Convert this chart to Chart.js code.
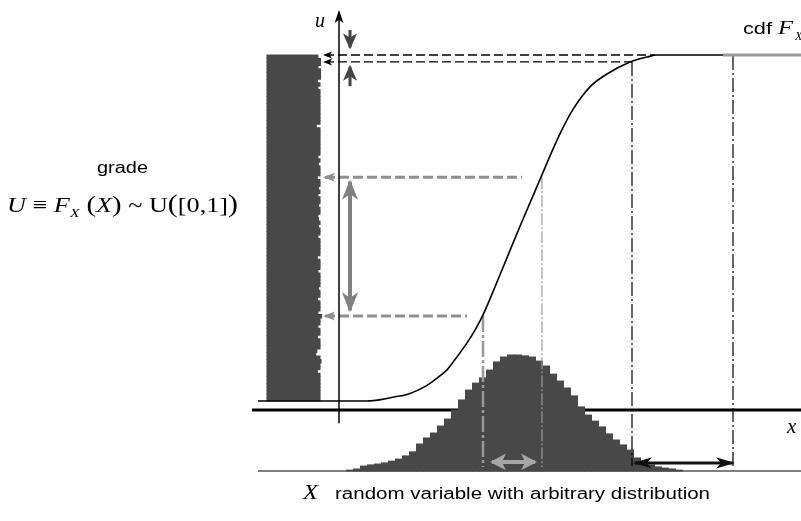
<!DOCTYPE html>
<html>
<head>
<meta charset="utf-8">
<script src="https://cdn.jsdelivr.net/npm/chart.js@4.4.1/dist/chart.umd.min.js"></script>
<style>
  html, body { margin: 0; padding: 0; background: #fff; }
  #wrap { width: 801px; height: 521px; position: relative; }
</style>
</head>
<body>
<div id="wrap"><canvas id="chart"></canvas></div>
<script>
// cdf F_X: x value -> grade u
const cdfX = [-2.57, -1.48, -1.32, -1.22, -1.08, -0.98, -0.88, -0.78, -0.68, -0.62, -0.48, -0.40, -0.32, -0.15, 0.05, 0.26, 0.38, 0.48, 0.58, 0.75, 0.92, 1.15, 1.32, 1.42, 2.08, 2.86];
const cdfU = [0, 0, 0.005, 0.011, 0.019, 0.030, 0.045, 0.066, 0.090, 0.112, 0.168, 0.205, 0.249, 0.365, 0.505, 0.647, 0.728, 0.790, 0.843, 0.908, 0.945, 0.980, 0.994, 1.0, 1.0, 1.0];

// histogram of X (bottom), bins of 0.07 starting at -1.65
const pdfStart = -1.65;
const pdfWidth = 0.07;
const pdfDensity = [0.003, 0.007, 0.017, 0.021, 0.024, 0.028, 0.034, 0.041, 0.052, 0.066,
  0.093, 0.114, 0.131, 0.155, 0.179, 0.210, 0.245, 0.279, 0.303, 0.321,
  0.348, 0.376, 0.393, 0.400, 0.400, 0.397, 0.393, 0.379, 0.362, 0.334,
  0.310, 0.286, 0.259, 0.221, 0.193, 0.172, 0.152, 0.128, 0.107, 0.090,
  0.072, 0.045, 0.031, 0.021, 0.014, 0.010, 0.007, 0.003];

// histogram of the grade U (left), 100 bins over [0,1]
const gradeCounts = [100, 100, 100, 100, 100, 100, 100, 100, 95, 100,
  100, 102, 100, 92, 94, 100, 100, 100, 95, 100,
  100, 96, 100, 100, 103, 96, 100, 100, 100, 95,
  100, 100, 97, 100, 100, 100, 100, 96, 100, 100,
  100, 95, 100, 100, 100, 100, 100, 96, 100, 100,
  97, 100, 97, 96, 100, 100, 97, 100, 100, 96,
  100, 97, 100, 100, 95, 100, 100, 100, 97, 100,
  96, 100, 100, 100, 100, 100, 100, 100, 100, 93,
  100, 100, 100, 100, 100, 100, 100, 100, 100, 100,
  96, 100, 95, 101, 101, 101, 96, 101, 101, 96];

// levels and points used by the construction
const uLow = 0.246, uHigh = 0.647;   // two grades read on the u axis
const xLow = -0.32, xHigh = 0.27;    // their x values
const uTop = 1.0, uTop2 = 0.980;
const xTop = 1.17, xEnd = 2.18;
const uAxisX = -1.76;

const pdfData = pdfDensity.map((d, i) => ({ x: +(pdfStart + pdfWidth * i).toFixed(3), y: d }));
const gradeData = gradeCounts.map((c, i) => ({ y: +(0.005 + 0.01 * i).toFixed(3), x: c }));

function seg(x1, y1, x2, y2, style) {
  return Object.assign({
    type: 'line',
    data: [{ x: x1, y: y1 }, { x: x2, y: y2 }],
    borderColor: '#000',
    borderWidth: 1.3,
    pointRadius: 0,
    fill: false,
    tension: 0,
    order: 3
  }, style);
}

const dashDot = [14, 3, 2, 3];

const datasets = [
  seg(-2.57, 0, 2.86, 0, { yAxisID: 'yd', borderColor: '#555', borderWidth: 1.5, order: 10 }),
  seg(-2.63, -0.026, 2.86, -0.026, { borderWidth: 3, order: 9 }),
  {
    type: 'bar', data: pdfData, xAxisID: 'xp', yAxisID: 'yd',
    backgroundColor: '#484848', borderWidth: 0, grouped: false,
    barPercentage: 1, categoryPercentage: 1, inflateAmount: 0.5, order: 8
  },
  {
    type: 'bar', indexAxis: 'y', data: gradeData, xAxisID: 'xc', yAxisID: 'yg',
    backgroundColor: '#484848', borderWidth: 0, grouped: false,
    barPercentage: 1, categoryPercentage: 1, inflateAmount: 0.5, order: 8
  },
  {
    type: 'line',
    data: cdfX.map((x, i) => ({ x: x, y: cdfU[i] })),
    borderColor: '#000', borderWidth: 1.6, pointRadius: 0, fill: false,
    cubicInterpolationMode: 'monotone', tension: 0.4, order: 2,
    segment: {
      borderColor: c => c.p0.parsed.x >= 2.0 ? '#999' : undefined,
      borderWidth: c => c.p0.parsed.x >= 2.0 ? 3 : undefined
    }
  },
  seg(uAxisX, -0.064, uAxisX, 1.124, { borderWidth: 1.5, order: 1, arrow: 'end', arrowSize: 11, arrowRatio: 0.4 }),
  seg(-1.90, uTop, 1.40, uTop, { borderDash: [9, 4], arrow: 'start', arrowSize: 7, arrowRatio: 0.5 }),
  seg(-1.90, uTop2, xTop, uTop2, { borderDash: [9, 4], arrow: 'start', arrowSize: 7, arrowRatio: 0.5 }),
  seg(xTop, uTop2, xTop, -0.188, { borderDash: dashDot, borderWidth: 1.2 }),
  seg(xEnd, 0.997, xEnd, -0.188, { borderDash: dashDot, borderWidth: 1.2 }),
  seg(-1.90, uHigh, 0.07, uHigh, { borderColor: '#8f8f8f', borderWidth: 3, borderDash: [10, 4], arrow: 'start', arrowSize: 10, arrowRatio: 0.45 }),
  seg(-1.90, uLow, -0.48, uLow, { borderColor: '#8f8f8f', borderWidth: 3, borderDash: [10, 4], arrow: 'start', arrowSize: 10, arrowRatio: 0.45 }),
  seg(xLow, uLow, xLow, -0.191, { borderColor: '#999', borderWidth: 2.5, borderDash: [16, 3, 3, 3] }),
  seg(xHigh, uHigh, xHigh, -0.191, { borderColor: '#9a9a9a', borderWidth: 1.2, borderDash: [12, 2, 2, 2] }),
  seg(-1.65, 0.262, -1.65, 0.634, { borderColor: '#808080', borderWidth: 4, arrow: 'both', arrowSize: 18, arrowRatio: 0.45 }),
  seg(-1.65, 1.072, -1.65, 1.022, { borderColor: '#444', borderWidth: 3, arrow: 'end', arrowSize: 14, arrowRatio: 0.5 }),
  seg(-1.65, 0.910, -1.65, 0.966, { borderColor: '#444', borderWidth: 3, arrow: 'end', arrowSize: 14, arrowRatio: 0.5 }),
  seg(-0.23, -0.176, 0.20, -0.176, { borderColor: '#a6a6a6', borderWidth: 4, arrow: 'both', arrowSize: 14, arrowRatio: 0.6, order: 1 }),
  seg(1.20, -0.179, xEnd, -0.179, { borderColor: '#111', borderWidth: 3, arrow: 'both', arrowSize: 17, arrowRatio: 0.33, order: 1 })
];

// arrow heads at the ends of the guide segments
function head(ctx, from, to, size, ratio, color) {
  const ang = Math.atan2(to.y - from.y, to.x - from.x);
  ctx.save();
  ctx.translate(to.x, to.y);
  ctx.rotate(ang);
  ctx.fillStyle = color;
  ctx.beginPath();
  ctx.moveTo(2, 0);
  ctx.lineTo(-size, -size * ratio);
  ctx.lineTo(-size * 0.7, 0);
  ctx.lineTo(-size, size * ratio);
  ctx.closePath();
  ctx.fill();
  ctx.restore();
}

const arrowHeads = {
  id: 'arrowHeads',
  afterDatasetsDraw(chart) {
    const ctx = chart.ctx;
    chart.data.datasets.forEach((ds, i) => {
      if (!ds.arrow) return;
      const pts = chart.getDatasetMeta(i).data;
      const a = pts[0], b = pts[pts.length - 1];
      if (ds.arrow === 'end' || ds.arrow === 'both') head(ctx, a, b, ds.arrowSize, ds.arrowRatio, ds.borderColor);
      if (ds.arrow === 'start' || ds.arrow === 'both') head(ctx, b, a, ds.arrowSize, ds.arrowRatio, ds.borderColor);
    });
  }
};

const serif = '"Liberation Serif", "DejaVu Serif", serif';
const sans = '"Liberation Sans", Arial, sans-serif';

// text pieces: [text, font, dy]
const formula = [
  ['U', 'italic 22px ' + serif, 0],
  [' \u2261 ', '22px ' + serif, 0],
  ['F', 'italic 22px ' + serif, 0],
  ['X', 'italic 13px ' + serif, 5],
  [' (', '24px ' + serif, 0],
  ['X', 'italic 22px ' + serif, 0],
  [')', '24px ' + serif, 0],
  [' ~ ', '22px ' + serif, 0],
  ['U', '22px ' + serif, 0],
  ['(', '25px ' + serif, 0],
  ['[0,1]', '22px ' + serif, 0],
  [')', '25px ' + serif, 0]
];

// labels placed in data units: x, u, optional fitted width
const labels = [
  { parts: [['u', 'italic 20px ' + serif, 0]], x: -2.00, u: 1.081 },
  { parts: [['cdf', '16px ' + sans, 0]], x: 2.28, u: 1.061, w: 29 },
  { parts: [['F', 'italic 19px ' + serif, 0]], x: 2.63, u: 1.061, w: 15 },
  { parts: [['X', 'italic 12px ' + serif, 0]], x: 2.80, u: 1.043 },
  { parts: [['x', 'italic 21px ' + serif, 0]], x: 2.72, u: -0.092 },
  { parts: [['grade', '16px ' + sans, 0]], x: -4.18, u: 0.659, w: 51 },
  { parts: formula, x: -5.08, u: 0.546, w: 231 },
  { parts: [['X', 'italic 20px ' + serif, 0]], x: -2.12, u: -0.283, w: 15 },
  { parts: [['random variable with arbitrary distribution', '16px ' + sans, 0]], x: -1.80, u: -0.283, w: 375 }
];

const textLabels = {
  id: 'textLabels',
  afterDraw(chart) {
    const ctx = chart.ctx;
    const sx = chart.scales.x, sy = chart.scales.y;
    ctx.save();
    ctx.fillStyle = '#000';
    ctx.textBaseline = 'alphabetic';
    ctx.textAlign = 'left';
    labels.forEach(l => {
      let natural = 0;
      l.parts.forEach(p => { ctx.font = p[1]; natural += ctx.measureText(p[0]).width; });
      const k = l.w ? l.w / natural : 1;
      ctx.save();
      ctx.translate(sx.getPixelForValue(l.x), sy.getPixelForValue(l.u));
      ctx.scale(k, 1);
      let cx = 0;
      l.parts.forEach(p => {
        ctx.font = p[1];
        ctx.fillText(p[0], cx, p[2]);
        cx += ctx.measureText(p[0]).width;
      });
      ctx.restore();
    });
    ctx.restore();
  }
};

const xRange = { min: -5.15, max: 2.86 };
const uRange = { min: -0.34682, max: 1.15896 };

new Chart(document.getElementById('chart'), {
  type: 'line',
  data: { datasets: datasets },
  options: {
    responsive: true,
    maintainAspectRatio: false,
    animation: false,
    events: [],
    layout: { padding: 0, autoPadding: false },
    plugins: { legend: { display: false }, tooltip: { enabled: false } },
    scales: {
      x: { type: 'linear', display: false, offset: false, min: xRange.min, max: xRange.max },
      y: { type: 'linear', display: false, offset: false, min: uRange.min, max: uRange.max },
      xp: { type: 'linear', axis: 'x', display: false, offset: false, min: xRange.min, max: xRange.max },
      yg: { type: 'linear', axis: 'y', display: false, offset: false, min: uRange.min, max: uRange.max },
      xc: { type: 'linear', axis: 'x', position: 'top', display: false, offset: false, min: -503.8, max: 1007.5 },
      yd: { type: 'linear', axis: 'y', position: 'right', display: false, offset: false, min: -0.1724, max: 1.6241 }
    }
  },
  plugins: [arrowHeads, textLabels]
});
</script>
</body>
</html>
